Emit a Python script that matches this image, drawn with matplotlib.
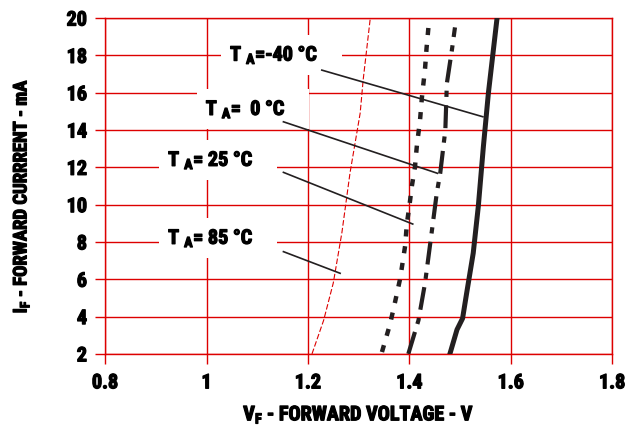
import matplotlib
matplotlib.use('Agg')
import matplotlib.pyplot as plt
import matplotlib.patheffects as pe
from matplotlib import font_manager

# forward voltage vs forward current, four ambient temperatures

# T_A = -40 C (solid)
vf_m40 = [1.480, 1.494, 1.505, 1.513, 1.526, 1.536, 1.546, 1.556, 1.573]
if_m40 = [2.0, 3.3, 3.9, 5.25, 7.4, 9.9, 13.1, 16.0, 20.0]

# T_A = 0 C (dash-dot)
vf_0 = [1.398, 1.418, 1.431, 1.444, 1.454, 1.461, 1.471, 1.474, 1.484, 1.490]
if_0 = [2.0, 3.8, 5.8, 8.5, 10.6, 11.7, 14.0, 16.5, 18.3, 19.5]

# T_A = 25 C (dotted)
vf_25 = [1.346, 1.362, 1.372, 1.382, 1.392, 1.395, 1.400, 1.405, 1.411,
         1.415, 1.421, 1.425, 1.431, 1.434, 1.438]
if_25 = [2.1, 3.6, 4.8, 6.05, 7.84, 8.96, 9.9, 11.0, 12.0,
         13.2, 14.5, 15.8, 17.3, 18.4, 19.6]

# T_A = 85 C (thin red dashed)
vf_85 = [1.208, 1.231, 1.250, 1.267, 1.283, 1.303, 1.309, 1.323]
if_85 = [2.0, 3.8, 5.8, 8.5, 11.7, 14.9, 16.7, 20.0]

x_ticks = [0.8, 1.0, 1.2, 1.4, 1.6, 1.8]
x_labels = ['0.8', '1', '1.2', '1.4', '1.6', '1.8']
y_ticks = [2, 4, 6, 8, 10, 12, 14, 16, 18, 20]

# label text, text position (left, baseline), leader line start -> end
labels = ['=-40 °C', '=  0 °C', '= 25 °C', '= 85 °C']
label_pos = [(1.0465, 17.71), (0.9986, 14.80), (0.9243, 12.07), (0.9243, 7.89)]
leader_start = [(1.2274, 17.21), (1.1517, 14.44), (1.1517, 11.73), (1.1517, 7.48)]
leader_end = [(1.545, 14.71), (1.4554, 11.68), (1.4067, 8.96), (1.2635, 6.32)]

# look for a narrow bold face, the original uses a condensed font
fam = None
cond = [f.name for f in font_manager.fontManager.ttflist
        if 'Narrow' in f.name or 'Condensed' in f.name]
for want in ['Liberation Sans Narrow', 'Roboto Condensed', 'Open Sans Condensed',
             'DejaVu Sans Condensed', 'Noto Sans Condensed']:
    if want in cond:
        fam = want
        break
if fam is None:
    fam = 'DejaVu Sans'
plt.rcParams['font.family'] = [fam, 'DejaVu Sans']
plt.rcParams['font.weight'] = 'bold'
plt.rcParams['mathtext.default'] = 'regular'

red = '#dd0000'
ink = '#231f20'
heavy = [pe.withStroke(linewidth=0.9, foreground='black')]

fig = plt.figure(figsize=(6.37, 4.30), dpi=100)
ax = fig.add_axes([0.165, 0.177, 0.796, 0.781])

ax.plot(vf_85, if_85, color=red, lw=0.8, dashes=(5, 2), zorder=3)
ax.plot(vf_25, if_25, color=ink, lw=3.2, dashes=(1.6, 2.2), zorder=3)
ax.plot(vf_0, if_0, color=ink, lw=3.0, dashes=(5.5, 2.0, 1.5, 2.0), zorder=3)
ax.plot(vf_m40, if_m40, color=ink, lw=3.6, zorder=3)

for txt, (tx, ty), (x0, y0), (x1, y1) in zip(labels, label_pos, leader_start, leader_end):
    ax.text(tx, ty, r'$T_{\ A}$' + txt + '    ', fontsize=14.5, fontweight='bold',
            ha='left', va='baseline', zorder=4, color='black', path_effects=heavy,
            bbox=dict(boxstyle='square,pad=0.45', fc='white', ec='none'))
    ax.plot([x0, x1], [y0, y1], color=ink, lw=1.2, zorder=5)

ax.set_xlim(0.8, 1.8)
ax.set_ylim(2, 20)
ax.set_xticks(x_ticks)
ax.set_xticklabels(x_labels)
ax.set_yticks(y_ticks)
ax.grid(True, color=red, lw=1.0)
ax.set_axisbelow(True)
for s in ax.spines.values():
    s.set_color(red)
    s.set_linewidth(1.0)
ax.tick_params(axis='both', direction='out', length=7, width=1.0, color=red,
               labelsize=14.5)
ax.tick_params(axis='x', pad=7)
ax.tick_params(axis='y', pad=6)
for lbl in ax.get_xticklabels() + ax.get_yticklabels():
    lbl.set_path_effects(heavy)

xl = ax.set_xlabel(r'$V_F$ - FORWARD VOLTAGE - V', fontsize=14.5, fontweight='bold',
                   labelpad=8)
yl = ax.set_ylabel(r'$I_F$ - FORWARD CURRRENT - mA', fontsize=13.5, fontweight='bold')
ax.yaxis.set_label_coords(-0.145, 0.47)
xl.set_path_effects(heavy)
yl.set_path_effects(heavy)

fig.savefig('out.png', dpi=100)
